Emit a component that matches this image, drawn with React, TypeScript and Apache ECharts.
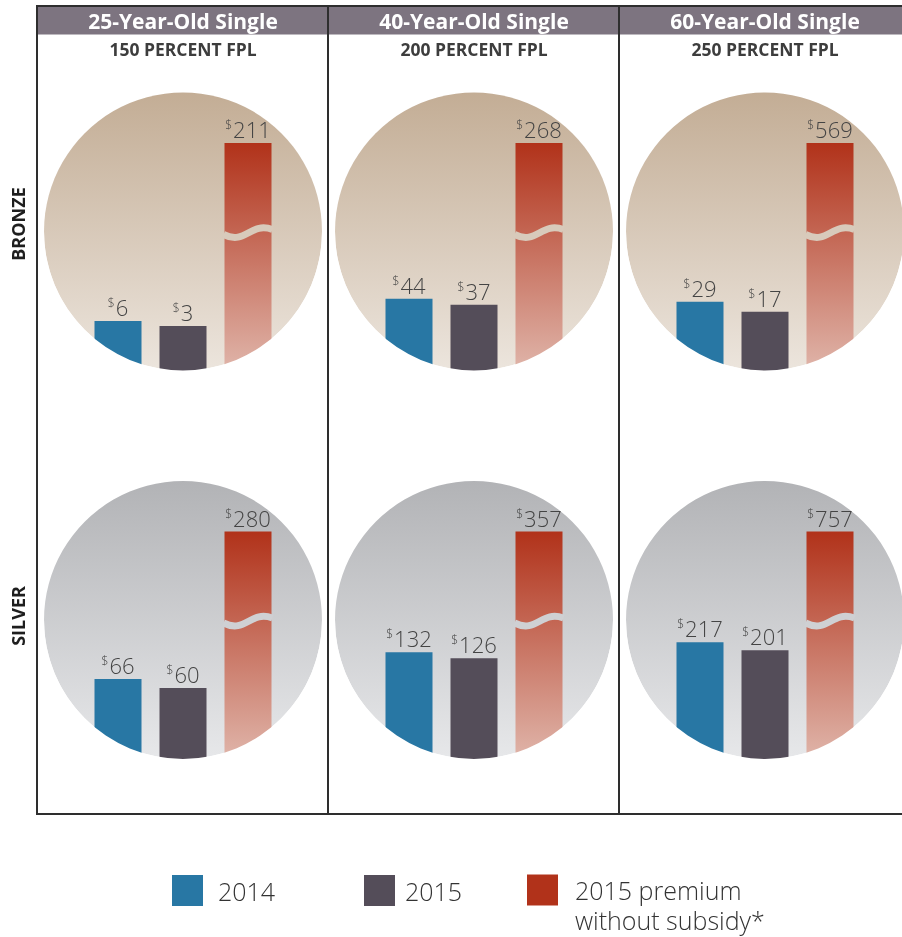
import React, { useEffect, useRef } from 'react';
import * as echarts from 'echarts';

const columnTitles = ['25-Year-Old Single', '40-Year-Old Single', '60-Year-Old Single'];
const fplLabels = ['150 PERCENT FPL', '200 PERCENT FPL', '250 PERCENT FPL'];
const tierLabels = ['BRONZE', 'SILVER'];
const seriesNames = ['2014', '2015', '2015 premium without subsidy*'];

const bronze2014 = [6, 44, 29];
const bronze2015 = [3, 37, 17];
const bronzeNoSubsidy = [211, 268, 569];
const silver2014 = [66, 132, 217];
const silver2015 = [60, 126, 201];
const silverNoSubsidy = [280, 357, 757];

// per-panel value-axis ranges (pictorial chart with broken axis)
const bronzeAxisMin = [-25, -42, -56];
const bronzeAxisMax = [113, 226, 220];
const silverAxisMin = [11, 23, -21];
const silverAxisMax = [165, 253, 439];

const FONT = '"Open Sans", "Noto Sans", sans-serif';
const colCenters = [183, 474, 765];
const rowCenters = [231.5, 620];
const R = 139;
const BAR_W = 47;
const BLUE = '#2877a4';
const GRAY = '#544d59';
const RED = '#b1321a';
const circleStops = [
  ['#c3ad95', '#ece5dd'],
  ['#b2b3b6', '#e7e8ea'],
];
const waveColors = ['#d8cabb', '#cfd0d3'];

echarts.graphic.registerShape(
  'circleMask',
  echarts.graphic.extendPath('M-1.03 0 L-1.03 1.03 L1.03 1.03 L1.03 0 L1 0 A1 1 0 0 1 -1 0 Z', {})
);

export default function App() {
  const ref = useRef<HTMLDivElement>(null);
  useEffect(() => {
    if (!ref.current) return;
    const chart = echarts.init(ref.current, null, { renderer: 'svg' });
    const rowsData = [
      [bronze2014, bronze2015, bronzeNoSubsidy],
      [silver2014, silver2015, silverNoSubsidy],
    ];
    const rowsMin = [bronzeAxisMin, silverAxisMin];
    const rowsMax = [bronzeAxisMax, silverAxisMax];

    const grids: any[] = [];
    const xAxes: any[] = [];
    const yAxes: any[] = [];
    const series: any[] = [];
    const graphics: any[] = [];

    for (let r = 0; r < 2; r++) {
      const cy = rowCenters[r];
      const top = cy - 88.5;
      const bottom = cy + R + 2;
      for (let c = 0; c < 3; c++) {
        const cx = colCenters[c];
        const gi = r * 3 + c;
        grids.push({ left: cx - 97.5, width: 195, top, height: bottom - top });
        xAxes.push({ type: 'category', gridIndex: gi, data: seriesNames, show: false });
        const yMin = rowsMin[r][c];
        const yMax = rowsMax[r][c];
        yAxes.push({ type: 'value', gridIndex: gi, min: yMin, max: yMax, show: false });
        graphics.push({
          type: 'circle',
          z: 0,
          shape: { cx, cy, r: R },
          style: {
            fill: new echarts.graphic.LinearGradient(0, 0, 0, 1, [
              { offset: 0, color: circleStops[r][0] },
              { offset: 1, color: circleStops[r][1] },
            ]),
          },
        });
        graphics.push({
          type: 'circleMask',
          z: 20,
          x: cx,
          y: cy,
          scaleX: R,
          scaleY: R,
          style: { fill: '#ffffff', lineWidth: 0 },
        });
        for (let s = 0; s < 3; s++) {
          const val = rowsData[r][s][c];
          series.push({
            type: 'custom',
            name: seriesNames[s],
            coordinateSystem: 'cartesian2d',
            xAxisIndex: gi,
            yAxisIndex: gi,
            itemStyle: { color: [BLUE, GRAY, RED][s] },
            encode: { x: 0, y: 1 },
            data: [[s, val]],
            z: 5,
            renderItem: (params: any, api: any) => {
              const cat = api.value(0);
              const v = api.value(1);
              const pTop = api.coord([cat, Math.min(v, yMax)]);
              const pBase = api.coord([cat, yMin]);
              const x = pTop[0];
              const yT = pTop[1];
              const yB = pBase[1];
              const fill =
                s === 2
                  ? new echarts.graphic.LinearGradient(0, 0, 0, 1, [
                      { offset: 0, color: '#b1321a' },
                      { offset: 1, color: '#e0b6ab' },
                    ])
                  : [BLUE, GRAY][s];
              const children: any[] = [
                {
                  type: 'rect',
                  shape: { x: x - BAR_W / 2, y: yT, width: BAR_W, height: yB - yT },
                  style: { fill },
                },
              ];
              if (v > yMax) {
                children.push({
                  type: 'bezierCurve',
                  shape: {
                    x1: x - BAR_W / 2 - 1,
                    y1: cy + 3,
                    cpx1: x - 2,
                    cpy1: cy + 14,
                    cpx2: x + 2,
                    cpy2: cy - 10,
                    x2: x + BAR_W / 2 + 1,
                    y2: cy - 2,
                  },
                  style: { stroke: waveColors[r], lineWidth: 7, fill: null },
                });
              }
              children.push({
                type: 'text',
                x,
                y: yT - 3,
                style: {
                  text: '{s|$}{n|' + v + '}',
                  align: 'center',
                  verticalAlign: 'bottom',
                  rich: {
                    s: { fontSize: 12, fontFamily: FONT, fontWeight: 300, fill: '#444', padding: [0, 1, 9, 0] },
                    n: { fontSize: 22, fontFamily: FONT, fontWeight: 300, fill: '#444' },
                  },
                },
              });
              return { type: 'group', children };
            },
          });
        }
      }
    }

    // frame
    const lineStyle = { stroke: '#2e2e2e', lineWidth: 2 };
    graphics.push({ type: 'rect', z: 1, shape: { x: 38, y: 6, width: 864, height: 28.5 }, style: { fill: '#7d7480' } });
    graphics.push({ type: 'line', z: 30, shape: { x1: 37, y1: 6, x2: 902, y2: 6 }, style: lineStyle });
    graphics.push({ type: 'line', z: 30, shape: { x1: 37, y1: 5, x2: 37, y2: 815 }, style: lineStyle });
    graphics.push({ type: 'line', z: 30, shape: { x1: 328, y1: 5, x2: 328, y2: 815 }, style: lineStyle });
    graphics.push({ type: 'line', z: 30, shape: { x1: 619, y1: 5, x2: 619, y2: 815 }, style: lineStyle });
    graphics.push({ type: 'line', z: 30, shape: { x1: 36, y1: 814, x2: 902, y2: 814 }, style: lineStyle });

    for (let c = 0; c < 3; c++) {
      graphics.push({
        type: 'text',
        z: 30,
        x: colCenters[c],
        y: 20.5,
        style: {
          text: columnTitles[c],
          fill: '#ffffff',
          font: 'bold 21px ' + FONT,
          align: 'center',
          verticalAlign: 'middle',
          textAlign: 'center',
          textVerticalAlign: 'middle',
        },
      });
      graphics.push({
        type: 'text',
        z: 30,
        x: colCenters[c],
        y: 49,
        style: {
          text: fplLabels[c],
          fill: '#3d3d3d',
          font: 'bold 17.5px ' + FONT,
          align: 'center',
          verticalAlign: 'middle',
          textAlign: 'center',
          textVerticalAlign: 'middle',
        },
      });
    }
    const tierY = [224, 616];
    for (let r = 0; r < 2; r++) {
      graphics.push({
        type: 'text',
        z: 30,
        x: 18,
        y: tierY[r],
        rotation: Math.PI / 2,
        style: {
          text: tierLabels[r],
          fill: '#1e1e1e',
          font: 'bold 18px ' + FONT,
          align: 'center',
          verticalAlign: 'middle',
          textAlign: 'center',
          textVerticalAlign: 'middle',
        },
      });
    }

    const legendBase = {
      orient: 'horizontal',
      itemWidth: 31,
      itemHeight: 31,
      icon: 'rect',
      selectedMode: false,
      padding: 5,
    };
    const legends = [
      { ...legendBase, data: [seriesNames[0]], left: 167, top: 870, textStyle: { fontFamily: FONT, fontSize: 25, fontWeight: 300, color: '#333', padding: [0, 0, 0, 10] } },
      { ...legendBase, data: [seriesNames[1]], left: 359, top: 870, textStyle: { fontFamily: FONT, fontSize: 25, fontWeight: 300, color: '#333', padding: [0, 0, 0, 5] } },
      {
        ...legendBase,
        data: [seriesNames[2]],
        left: 522,
        top: 840,
        formatter: () => '\n2015 premium\nwithout subsidy*',
        textStyle: { fontFamily: FONT, fontSize: 25, fontWeight: 300, color: '#333', lineHeight: 30, padding: [0, 0, 0, 12] },
      },
    ];

    chart.setOption({
      animation: false,
      grid: grids,
      xAxis: xAxes,
      yAxis: yAxes,
      series,
      legend: legends,
      graphic: { elements: graphics },
    });
    return () => chart.dispose();
  }, []);
  return <div ref={ref} style={{ position: 'fixed', left: 0, top: 0, width: 902, height: 937 }} />;
}
